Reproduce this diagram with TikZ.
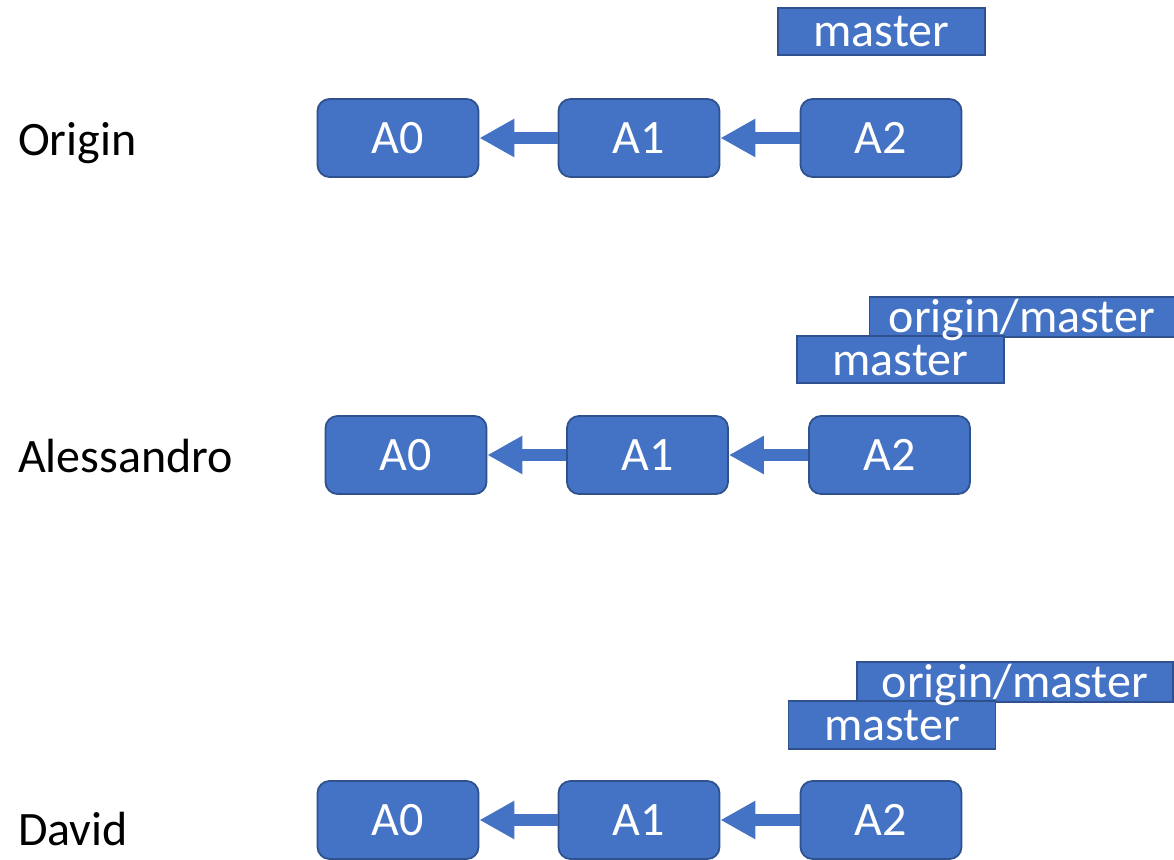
\documentclass[tikz,border=0pt]{standalone}
\usepackage{fontspec}
\setmainfont{Carlito}
\usetikzlibrary{arrows.meta,fit,backgrounds}
\definecolor{cblue}{HTML}{4472C4}
\definecolor{cborder}{HTML}{2F528F}
\begin{document}
\begin{tikzpicture}[x=1pt,y=-1pt,
  commit/.style={rounded corners=12pt, fill=cblue, draw=cborder, line width=1.8pt,
    minimum width=161pt, minimum height=78pt, text=white, text height=31pt, text depth=0pt,
    inner sep=0pt, font=\fontsize{48}{57}\selectfont},
  tagtext/.style={text=white, text height=31pt, text depth=0pt, inner sep=0pt,
    font=\fontsize{48}{57}\selectfont},
  tagbox/.style={fill=cblue, draw=cborder, line width=1.5pt, inner sep=0pt},
  who/.style={anchor=base west, inner sep=0pt, font=\fontsize{48}{57}\selectfont},
  link/.style={cblue, line width=12pt, -{Triangle[length=35pt,width=36pt]}}]
\useasboundingbox (0,0) rectangle (1174,859);

% Origin
\node[who] (lo) at (18,155) {Origin};
\node[commit] (oa0) at (398,138) {A0};
\node[commit] (oa1) at (639,138) {A1};
\node[commit] (oa2) at (881,138) {A2};
\draw[link] (oa1.west) -- (oa0.east);
\draw[link] (oa2.west) -- (oa1.east);
\node[tagtext, minimum width=207pt, minimum height=47pt] (om) at (881.5,31.5) {master};

% Alessandro
\node[who] (la) at (18,472) {Alessandro};
\node[commit] (aa0) at (406,455) {A0};
\node[commit] (aa1) at (647.5,455) {A1};
\node[commit] (aa2) at (889.5,455) {A2};
\draw[link] (aa1.west) -- (aa0.east);
\draw[link] (aa2.west) -- (aa1.east);
\node[tagtext, minimum width=305pt, minimum height=40pt] (aom) at (1022,317) {origin/master};
\node[tagtext, minimum width=207pt, minimum height=47pt] (am) at (900.5,359.5) {master};

% David
\node[who] (ld) at (18,845) {David};
\node[commit] (da0) at (398,820) {A0};
\node[commit] (da1) at (639,820) {A1};
\node[commit] (da2) at (881,820) {A2};
\draw[link] (da1.west) -- (da0.east);
\draw[link] (da2.west) -- (da1.east);
\node[tagtext, minimum width=316pt, minimum height=40pt] (dom) at (1015,682) {origin/master};
\node[tagtext, minimum width=207pt, minimum height=48pt] (dm) at (892,725) {master};

\begin{pgfonlayer}{background}
\node[tagbox, fit=(om)] {};
\node[tagbox, fit=(aom)] {};
\node[tagbox, fit=(am)] {};
\node[tagbox, fit=(dom)] {};
\node[tagbox, fit=(dm)] {};
\end{pgfonlayer}
\end{tikzpicture}
\end{document}
